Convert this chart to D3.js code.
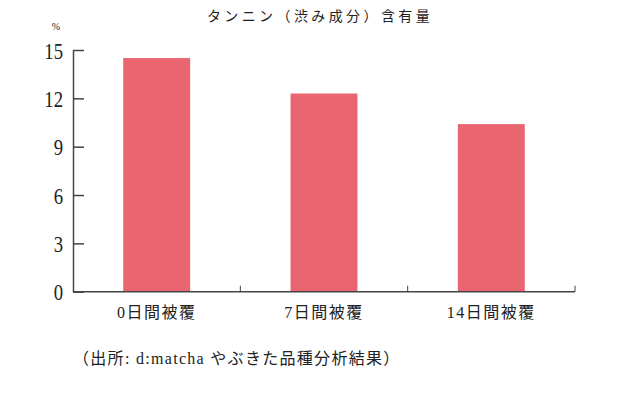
<!DOCTYPE html>
<html>
<head>
<meta charset="utf-8">
<script src="https://cdn.jsdelivr.net/npm/d3@7"></script>
<style>
  body { margin: 0; background: #fff; }
  text { font-family: "Liberation Serif", "Noto Sans CJK JP", serif; fill: #222; }
</style>
</head>
<body>
<div id="chart"></div>
<script>
// data
var categories = ["0日間被覆", "7日間被覆", "14日間被覆"];
var tannin = [14.5, 12.3, 10.4];
var yTicks = [0, 3, 6, 9, 12, 15];

var titleText = "タンニン（渋み成分）含有量";
var unitText = "%";
var sourceText = "（出所: d:matcha やぶきた品種分析結果）";

var W = 635, H = 414;
// plot edges (window.top is reserved, so keep these in an object)
var plot = {left: 73, right: 575, top: 50, bottom: 291.7};

var svg = d3.select("#chart")
  .append("svg")
    .attr("width", W)
    .attr("height", H)

var x = d3.scaleBand()
    .domain(categories)
    .range([plot.left, plot.right])
    .paddingInner(0.6)
    .paddingOuter(0.3)

var y = d3.scaleLinear()
    .domain([0, 15])
    .range([plot.bottom, plot.top])

// bars
svg.append("g")
  .selectAll("rect")
  .data(tannin)
  .enter()
  .append("rect")
    .attr("x", function(d, i) { return x(categories[i]); })
    .attr("y", function(d) { return y(d); })
    .attr("width", x.bandwidth())
    .attr("height", function(d) { return y(0) - y(d); })
    .style("fill", "#e96671")

// y axis, ticks point inward
var yAxis = svg.append("g")
    .attr("transform", "translate(" + plot.left + ",0)")
    .call(d3.axisLeft(y).tickValues(yTicks).tickSizeInner(-11).tickSizeOuter(0).tickPadding(10))
yAxis.select(".domain").attr("stroke", "#444").attr("stroke-width", 1.5)
yAxis.selectAll(".tick line").attr("stroke", "#444").attr("stroke-width", 1.5)
yAxis.selectAll(".tick text")
    .attr("x", null)
    .attr("dy", "0.34em")
    .attr("transform", "translate(-10,0) scale(0.78,1)")
    .style("font-size", "24px")
    .style("font-family", "'Liberation Serif', serif")
    .style("fill", "#222")

// x axis baseline
svg.append("line")
    .attr("x1", plot.left).attr("x2", plot.right)
    .attr("y1", y(0)).attr("y2", y(0))
    .attr("stroke", "#444")
    .attr("stroke-width", 1.5)

// little upward ticks at the band edges
svg.append("g")
  .selectAll("line")
  .data(categories)
  .enter()
  .append("line")
    .attr("x1", function(d) { return x(d) + x.bandwidth() + x.step() * x.paddingOuter(); })
    .attr("x2", function(d) { return x(d) + x.bandwidth() + x.step() * x.paddingOuter(); })
    .attr("y1", y(0))
    .attr("y2", y(0) - 6)
    .attr("stroke", "#444")
    .attr("stroke-width", 1)

// category labels
svg.append("g")
  .selectAll("text")
  .data(categories)
  .enter()
  .append("text")
    .attr("x", function(d) { return x(d) + x.bandwidth() / 2; })
    .attr("y", y(0) + 26)
    .attr("text-anchor", "middle")
    .style("font-size", "16px")
    .style("letter-spacing", "1.5px")
    .text(function(d) { return d; })

// title, unit, source
svg.append("text")
    .attr("x", 320)
    .attr("y", 21)
    .attr("text-anchor", "middle")
    .style("font-size", "14px")
    .style("letter-spacing", "3.4px")
    .text(titleText)

svg.append("text")
    .attr("x", 56)
    .attr("y", 30)
    .attr("text-anchor", "middle")
    .style("font-size", "10px")
    .text(unitText)

svg.append("text")
    .attr("x", 73)
    .attr("y", 364)
    .style("font-size", "16px")
    .style("letter-spacing", "1.3px")
    .text(sourceText)
</script>
</body>
</html>
